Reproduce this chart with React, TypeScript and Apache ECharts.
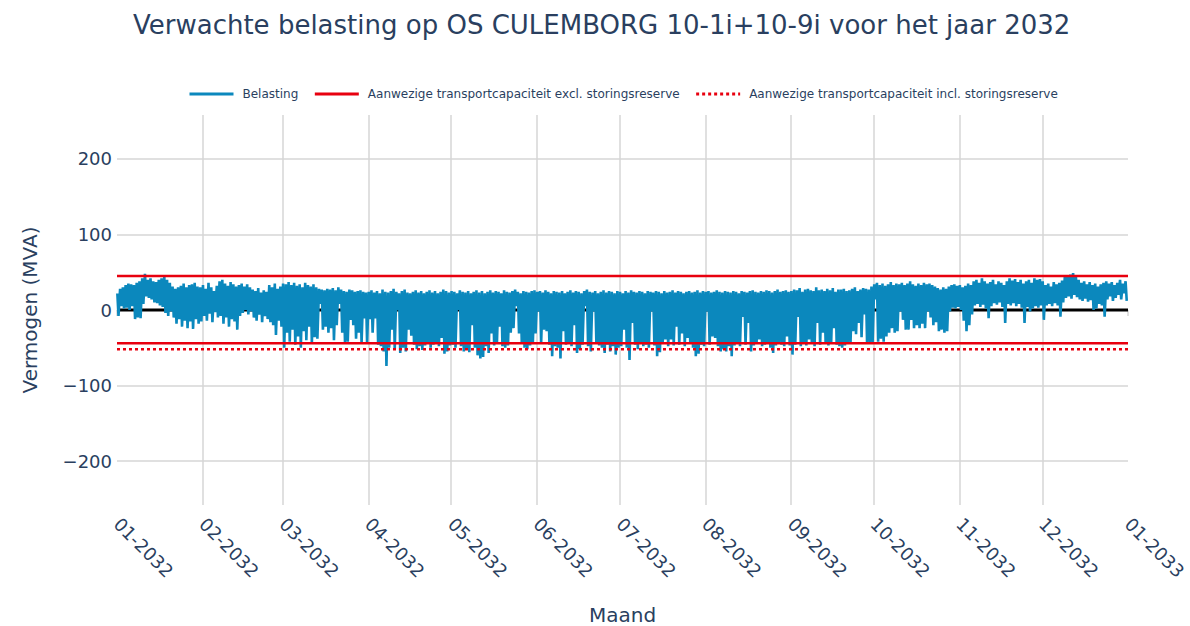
import React, { useEffect, useRef } from "react";
import * as echarts from "echarts";

const chartTitle = "Verwachte belasting op OS CULEMBORG 10-1i+10-9i voor het jaar 2032";
const loadName = "Belasting";
const exclName = "Aanwezige transportcapaciteit excl. storingsreserve";
const inclName = "Aanwezige transportcapaciteit incl. storingsreserve";
const xAxisTitle = "Maand";
const yAxisTitle = "Vermogen (MVA)";

const xTickLabels = [
  "01-2032", "02-2032", "03-2032", "04-2032", "05-2032", "06-2032", "07-2032",
  "08-2032", "09-2032", "10-2032", "11-2032", "12-2032", "01-2033",
];

const capacityExclUpper = 45;
const capacityExclLower = -44;
const capacityInclLower = -52;
const zeroLevel = 0;
const yMin = -258;
const yMax = 258;

// Daily maximum load (MVA), Jan 1 .. Dec 31 2032, one row per month
const dailyMax = [
  22, 28, 30, 33, 35, 34, 33, 36, 38, 42, 48, 40, 42, 38, 37, 40, 42, 44, 40, 36, 31, 28, 30, 32, 35, 30, 33, 34, 36, 31, 30,
  33, 28, 36, 30, 25, 32, 38, 40, 35, 32, 37, 34, 31, 33, 35, 31, 34, 30, 27, 25, 29, 23, 26, 24, 33, 30, 35, 28, 31,
  35, 34, 37, 33, 36, 32, 34, 30, 36, 33, 31, 34, 30, 28, 27, 26, 28, 27, 29, 26, 30, 27, 25, 24, 27, 26, 24, 25, 26, 24, 23,
  24, 26, 23, 25, 22, 27, 24, 23, 25, 28, 24, 22, 25, 27, 23, 22, 24, 26, 23, 25, 22, 24, 26, 23, 25, 22, 24, 27, 25, 23,
  25, 24, 22, 26, 24, 23, 25, 22, 24, 26, 23, 25, 22, 24, 26, 23, 25, 24, 22, 26, 24, 23, 25, 27, 24, 22, 25, 24, 23, 25, 26,
  24, 25, 23, 26, 24, 22, 25, 24, 23, 25, 22, 24, 26, 23, 25, 24, 22, 25, 27, 24, 23, 25, 22, 24, 26, 23, 25, 24, 22, 25,
  24, 22, 25, 23, 26, 24, 23, 25, 24, 22, 25, 24, 23, 25, 24, 22, 25, 23, 24, 26, 23, 25, 24, 22, 24, 25, 23, 24, 26, 23, 25,
  24, 25, 23, 24, 26, 24, 23, 25, 24, 23, 25, 24, 22, 25, 24, 23, 25, 26, 24, 23, 25, 24, 26, 25, 23, 25, 27, 24, 25, 26, 24,
  25, 27, 26, 29, 24, 27, 28, 26, 25, 30, 26, 27, 25, 28, 26, 29, 24, 27, 27, 28, 25, 26, 28, 30, 25, 27, 29, 28, 27, 31,
  34, 36, 33, 35, 32, 34, 37, 33, 35, 34, 36, 33, 35, 38, 34, 32, 35, 33, 36, 34, 35, 33, 31, 29, 27, 30, 28, 31, 33, 34, 32,
  33, 30, 32, 35, 33, 38, 40, 36, 42, 38, 35, 37, 40, 34, 38, 36, 33, 38, 42, 39, 41, 37, 40, 35, 38, 40, 36, 42, 40, 41,
  38, 33, 35, 31, 37, 34, 36, 39, 44, 46, 47, 49, 45, 40, 36, 38, 34, 37, 33, 35, 31, 34, 36, 38, 35, 37, 33, 36, 40, 35, 38,
];

// Daily minimum load (MVA), Jan 1 .. Dec 31 2032, one row per month
const dailyMin = [
  -8, 5, 2, 3, 0, 5, -12, -10, -11, 8, 18, 16, 14, 10, 9, 6, 4, -4, -8, -2, -10, -18, -12, -22, -14, -24, -15, -25, -12, -18, -15,
  -8, -14, -5, -16, -3, -10, -8, -18, -10, -22, -12, -15, -26, -8, -4, 0, -6, -2, -10, -14, -6, -16, -8, -12, -16, -20, -33, -14, -22,
  -50, -30, -42, -26, -46, -35, -50, -28, -40, -22, -44, -36, -38, 8, -26, -22, -30, -24, -40, -20, 8, -30, -43, -42, -13, -20, -38, -30, -44, -11, -44,
  -12, -30, -11, -46, -48, -55, -74, -50, -26, -52, 0, -57, -50, -55, -26, -34, -46, -52, -48, -53, -47, -44, -50, -46, -44, -48, -37, -58, -55, -47,
  -46, -50, 0, -48, -55, -52, -56, -20, -50, -60, -64, -62, -48, -57, -31, -47, -44, -22, -48, -50, -47, -30, -24, 5, -31, -44, -50, -52, -47, -44, -31,
  -2, -44, -26, -28, -46, -61, -48, -50, -64, -28, -46, -44, -48, -20, -57, -52, -46, 5, -48, -55, -2, -44, -47, -50, -57, -46, -55, -48, -59, -50,
  -48, -26, -50, -66, -17, -46, -52, -44, -48, -46, -50, -2, -47, -61, -56, -45, -39, -48, -39, -47, -22, -46, -31, -48, -37, -45, -50, -61, -58, -46, -48,
  -2, -46, -35, -37, -48, -55, -52, -55, -48, -61, -47, -44, -48, -9, -46, -17, -55, -47, -44, -39, -48, -46, -44, -50, -57, -47, -44, -46, -48, -35, -47,
  -59, -46, -9, -48, -45, -47, -39, -44, -48, -17, -46, -30, -45, -47, -44, -24, -46, -48, -50, -47, -45, -44, -28, -32, -17, -36, -6, -44, -45, -44,
  14, -42, -38, -42, -35, -30, -24, -30, -28, -2, -13, -26, -26, -13, -24, -20, -24, -18, -24, -2, -10, -20, -16, -28, -26, -30, -28, -2, 3, 2, 4,
  0, -14, -28, -20, -6, 6, 8, 4, 7, 2, -11, 5, 9, 7, 10, 4, -17, 8, 6, 9, 5, 8, 3, -17, 4, -2, 2, 5, 3, 6,
  -13, 6, 8, 5, 9, 6, -9, 10, 16, 18, 15, 20, 17, 14, 12, 15, 11, 13, 0, 2, 8, 6, -9, 14, 18, 12, 16, 20, 14, 22, 12,
];

const TEXT = "#2a3f5f";
const GRID = "#d6d6d6";
const FONT = "DejaVu Sans";
const BLUE = "#0b88bd";
const RED = "#e8000f";

const monthStarts = xTickLabels.map((l) => {
  const [m, y] = l.split("-");
  return new Date(Number(y), Number(m) - 1, 1).getTime();
});
const xStart = monthStarts[0];
const xEnd = monthStarts[monthStarts.length - 1];

function buildLoad() {
  const pts: [number, number][] = [];
  for (let d = 0; d < dailyMax.length; d++) {
    pts.push([new Date(2032, 0, 1 + d, 3).getTime(), dailyMax[d]]);
    pts.push([new Date(2032, 0, 1 + d, 13).getTime(), dailyMin[d]]);
  }
  return pts;
}

function flat(v: number) {
  return [
    [xStart, v],
    [xEnd, v],
  ];
}

function fmtMonth(v: number) {
  const i = monthStarts.findIndex((m) => Math.abs(m - v) < 43200000);
  if (i >= 0) return xTickLabels[i];
  const d = new Date(v);
  return String(d.getMonth() + 1).padStart(2, "0") + "-" + d.getFullYear();
}

export default function App() {
  const ref = useRef<HTMLDivElement>(null);
  useEffect(() => {
    const chart = echarts.init(ref.current!, null, { renderer: "svg" });
    chart.setOption({
      animation: false,
      backgroundColor: "#ffffff",
      textStyle: { fontFamily: FONT },
      title: {
        text: chartTitle,
        left: 128,
        top: 7,
        textStyle: { fontSize: 26, fontWeight: "normal", color: TEXT, fontFamily: FONT },
      },
      legend: {
        left: 183,
        top: 83,
        itemWidth: 44,
        itemHeight: 12,
        itemGap: 15,
        itemStyle: { opacity: 0 },
        lineStyle: { width: 3 },
        data: [loadName, exclName, inclName],
        textStyle: { fontSize: 12, color: TEXT, fontFamily: FONT, padding: [0, 0, 0, 4] },
      },
      grid: { left: 117, right: 62, top: 115, bottom: 121, outerBoundsMode: "none", containLabel: false },
      xAxis: {
        type: "value",
        min: xStart,
        max: xEnd,
        axisLine: { show: false },
        axisTick: {
          show: true,
          length: 6,
          customValues: monthStarts,
          lineStyle: { color: GRID, width: 1.5 },
        },
        axisLabel: {
          customValues: monthStarts,
          rotate: -45,
          fontSize: 18,
          color: TEXT,
          margin: 16,
          fontFamily: FONT,
          hideOverlap: false,
          showMinLabel: true,
          showMaxLabel: true,
          formatter: (v: number) => fmtMonth(v),
        },
        splitLine: {
          show: true,
          showMinLine: false,
          showMaxLine: false,
          lineStyle: { color: GRID, width: 1.5 },
        },
        name: xAxisTitle,
        nameLocation: "middle",
        nameGap: 100,
        nameTextStyle: { fontSize: 20, color: TEXT, fontFamily: FONT },
      },
      yAxis: {
        type: "value",
        min: yMin,
        max: yMax,
        axisLine: { show: false },
        axisTick: { show: false },
        axisLabel: {
          fontSize: 18,
          color: TEXT,
          margin: 5,
          fontFamily: FONT,
          showMinLabel: false,
          showMaxLabel: false,
          formatter: (v: number) => (v < 0 ? "\u2212" + Math.abs(v) : String(v)),
        },
        splitLine: {
          show: true,
          showMinLine: false,
          showMaxLine: false,
          lineStyle: { color: GRID, width: 1.5 },
        },
        name: yAxisTitle,
        nameLocation: "middle",
        nameGap: 77,
        nameTextStyle: { fontSize: 20, color: TEXT, fontFamily: FONT },
      },
      series: [
        {
          name: "nul",
          type: "line",
          data: flat(zeroLevel),
          symbol: "none",
          silent: true,
          z: 1,
          lineStyle: { color: "#000000", width: 3 },
          itemStyle: { color: "#000000" },
        },
        {
          name: loadName,
          type: "line",
          data: buildLoad(),
          symbol: "none",
          showSymbol: false,
          z: 2,
          lineStyle: { color: BLUE, width: 2.6 },
          itemStyle: { color: BLUE },
        },
        {
          name: exclName,
          type: "line",
          data: flat(capacityExclUpper),
          symbol: "none",
          z: 3,
          lineStyle: { color: RED, width: 2.6 },
          itemStyle: { color: RED },
        },
        {
          name: exclName,
          type: "line",
          data: flat(capacityExclLower),
          symbol: "none",
          z: 3,
          lineStyle: { color: RED, width: 2.6 },
          itemStyle: { color: RED },
        },
        {
          name: inclName,
          type: "line",
          data: flat(capacityInclLower),
          symbol: "none",
          z: 3,
          lineStyle: { color: RED, width: 2.6, type: [3, 3] },
          itemStyle: { color: RED },
        },
      ],
    });
    return () => chart.dispose();
  }, []);
  return (
    <div
      ref={ref}
      style={{ position: "fixed", left: 0, top: 0, width: 1190, height: 626 }}
    />
  );
}
